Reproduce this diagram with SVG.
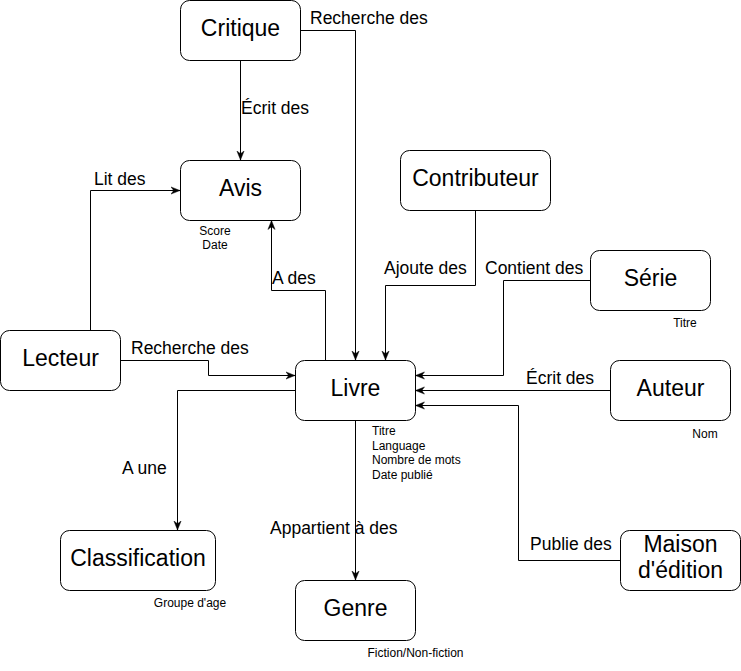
<svg xmlns="http://www.w3.org/2000/svg" width="741" height="671" viewBox="0 0 741 671">
<style>
.node{fill:#fff;stroke:#000;stroke-width:1}
.nt{font-family:"Liberation Sans",Arial,sans-serif;font-size:23px;fill:#000;text-anchor:middle}
.el{font-family:"Liberation Sans",Arial,sans-serif;font-size:17.5px;fill:#000}
.at{font-family:"Liberation Sans",Arial,sans-serif;font-size:12px;fill:#000}
.c{text-anchor:middle}
.edge{fill:none;stroke:#000;stroke-width:1;marker-end:url(#arr)}
</style>
<defs>
<marker id="arr" markerUnits="userSpaceOnUse" viewBox="0 0 10 10" markerWidth="9" markerHeight="9" refX="10" refY="5" orient="auto">
<path d="M0,1 L10,5 L0,9 L3,5 z" fill="#000" stroke="#000" stroke-width="0.5"/>
</marker>
</defs>
<rect width="741" height="671" fill="#fff"/>
<g id="connectors">
<path class="edge" d="M240.5,60.5 V160"/>
<path class="edge" d="M300.5,30.5 H355.5 V360"/>
<path class="edge" d="M90.5,330.5 V190.5 H180"/>
<path class="edge" d="M325.5,360.5 V290.5 H271.5 V220.5"/>
<path class="edge" d="M475.5,210.5 V285.5 H385.5 V360"/>
<path class="edge" d="M590.5,280.5 H503.5 V375.5 H415.5"/>
<path class="edge" d="M120.5,360.5 H208.5 V375.5 H295"/>
<path class="edge" d="M610.5,390.5 H415.5"/>
<path class="edge" d="M295.5,390.5 H177.5 V530"/>
<path class="edge" d="M355.5,420.5 V580"/>
<path class="edge" d="M620.5,560.5 H518.5 V405.5 H415.5"/>
</g>
<g id="edge-labels">
<text class="el" x="310" y="24">Recherche des</text>
<text class="el" x="241" y="114">Écrit des</text>
<text class="el" x="94" y="185">Lit des</text>
<text class="el" x="272" y="284">A des</text>
<text class="el" x="384" y="274">Ajoute des</text>
<text class="el" x="485" y="274">Contient des</text>
<text class="el" x="131" y="354">Recherche des</text>
<text class="el" x="526" y="384">Écrit des</text>
<text class="el" x="122" y="474">A une</text>
<text class="el" x="270" y="534">Appartient à des</text>
<text class="el" x="530" y="550">Publie des</text>
</g>
<g id="critique"><rect class="node" x="180.5" y="0.5" width="120" height="60" rx="9"/><text class="nt" x="240.5" y="36">Critique</text></g>
<g id="avis"><rect class="node" x="180.5" y="160.5" width="120" height="60" rx="9"/><text class="nt" x="240.5" y="196">Avis</text>
<text class="at c" x="215" y="235">Score</text><text class="at c" x="215" y="249">Date</text></g>
<g id="contributeur"><rect class="node" x="400.5" y="150.5" width="150" height="60" rx="9"/><text class="nt" x="475.5" y="186">Contributeur</text></g>
<g id="serie"><rect class="node" x="590.5" y="250.5" width="120" height="60" rx="9"/><text class="nt" x="650.5" y="286">Série</text>
<text class="at c" x="685" y="327">Titre</text></g>
<g id="lecteur"><rect class="node" x="0.5" y="330.5" width="120" height="60" rx="9"/><text class="nt" x="60.5" y="366">Lecteur</text></g>
<g id="livre"><rect class="node" x="295.5" y="360.5" width="120" height="60" rx="9"/><text class="nt" x="355.5" y="396">Livre</text>
<text class="at" x="372" y="435">Titre</text><text class="at" x="372" y="449.5">Language</text><text class="at" x="372" y="464">Nombre de mots</text><text class="at" x="372" y="478.5">Date publié</text></g>
<g id="auteur"><rect class="node" x="610.5" y="360.5" width="120" height="60" rx="9"/><text class="nt" x="670.5" y="396">Auteur</text>
<text class="at c" x="705" y="438">Nom</text></g>
<g id="classification"><rect class="node" x="60.5" y="530.5" width="155" height="60" rx="9"/><text class="nt" x="138" y="566">Classification</text>
<text class="at c" x="190" y="607">Groupe d'age</text></g>
<g id="genre"><rect class="node" x="295.5" y="580.5" width="120" height="60" rx="9"/><text class="nt" x="355.5" y="616">Genre</text>
<text class="at c" x="415.5" y="657">Fiction/Non-fiction</text></g>
<g id="maison"><rect class="node" x="620.5" y="530.5" width="120" height="60" rx="9"/><text class="nt" x="680.5" y="552">Maison</text><text class="nt" x="680.5" y="578">d'édition</text></g>
</svg>
